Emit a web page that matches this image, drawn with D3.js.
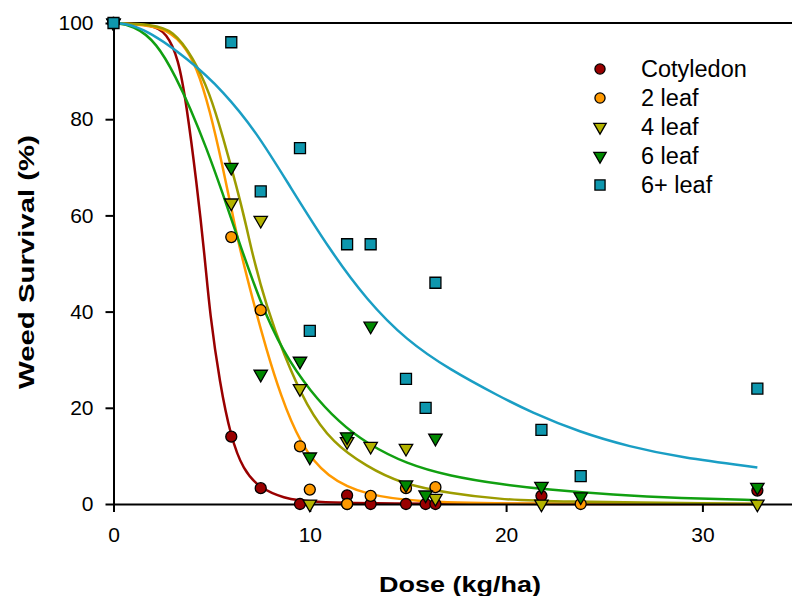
<!DOCTYPE html>
<html>
<head>
<meta charset="utf-8">
<script src="https://cdn.jsdelivr.net/npm/d3@7"></script>
<style>
  body { margin: 0; background: #fff; }
  svg { display: block; font-family: "Liberation Sans", Arial, sans-serif; }
</style>
</head>
<body>
<div id="chart"></div>
<script>
// Data (dose kg/ha, survival %)
const stages = ['Cotyledon', '2 leaf', '4 leaf', '6 leaf', '6+ leaf']

const cotyledonPoints = [[0,100],[6,14],[7.5,3.3],[9.5,0],[11.9,1.8],[11.9,0],[13.1,0],[14.9,0],[15.9,0],[16.4,0],[21.8,1.7],[32.8,2.8]]
const leaf2Points = [[0,100],[6,55.5],[7.5,40.3],[9.5,12],[10,3],[11.9,0],[13.1,1.7],[14.9,3.3],[16.4,3.5],[23.8,0]]
const leaf4Points = [[0,100],[6,62.6],[7.5,59],[9.5,24],[10,0],[11.9,13],[13.1,12],[14.9,11.6],[16.4,1.2],[21.8,0],[32.8,0]]
const leaf6Points = [[0,100],[6,70],[7.5,27],[9.5,29.7],[10,9.8],[11.9,14],[13.1,37],[14.9,4],[15.9,1.9],[16.4,13.7],[21.8,3.7],[23.8,1.5],[32.8,3.5]]
const leaf6plusPoints = [[0,100],[6,96],[7.5,65],[9.5,74],[10,36],[11.9,54],[13.1,54],[14.9,26],[15.9,20],[16.4,46],[21.8,15.4],[23.8,5.8],[32.8,24]]

// fitted curves
const cotyledonCurve = [[0,100],[2,99.7],[2.7,97.9],[3.3,92.8],[3.72,83],[4.23,67],[4.66,51],[4.91,39.5],[5.42,25],[5.97,14],[6.61,7],[7.46,3.3],[8.65,1.2],[10,0.3],[15,0],[32.8,0]]
const leaf2Curve = [[0,100],[2.5,99.5],[3.54,95.8],[4.23,91],[4.91,81.9],[5.57,70],[6.08,60],[6.35,54.5],[7.12,42],[7.8,32],[8.48,23],[9.5,12.5],[10.86,5.5],[12.9,1.8],[15.4,0.5],[19.7,0],[32.8,0]]
const leaf4Curve = [[0,100],[2,99.7],[3.03,98.5],[4.04,93],[4.91,85.4],[5.57,76.4],[6.27,66],[6.78,57.6],[7.1,51.5],[7.8,41],[8.65,31.3],[9.84,20.2],[11.19,12.6],[12.9,7.8],[14.59,4.3],[17.14,2.2],[19.7,1],[22.06,0.5],[32.8,0]]
const leaf6Curve = [[0,100],[1,99.6],[2.2,96],[3.21,88.5],[3.89,82.5],[4.74,74],[5.57,64.5],[6.27,56],[7.46,42],[8.65,31.5],[10,23.5],[11.53,16.8],[12.9,12.6],[14.93,8.3],[17.14,5.8],[19.7,4.1],[22.06,3],[25.45,1.9],[28.85,1.2],[32.8,0.8]]
const leaf6plusCurve = [[0,100],[1.35,99.6],[3.89,92.3],[5.57,85.9],[7.29,77.3],[8.99,66],[11.02,52.8],[12.9,42.4],[14.93,34],[17.14,27.9],[19.7,22.3],[21.21,19.2],[23.76,14.9],[26.3,11.9],[28.85,9.7],[32.8,7.6]]

const xTicks = [0, 10, 20, 30]
const yTicks = [0, 20, 40, 60, 80, 100]

// series table + styles
const series = [
  { name: stages[0], points: cotyledonPoints, curve: cotyledonCurve },
  { name: stages[1], points: leaf2Points, curve: leaf2Curve },
  { name: stages[2], points: leaf4Points, curve: leaf4Curve },
  { name: stages[3], points: leaf6Points, curve: leaf6Curve },
  { name: stages[4], points: leaf6plusPoints, curve: leaf6plusCurve }
]
const styles = [
  { fill: '#990000', line: '#990000', symbol: d3.symbolCircle, size: 95, rot: 0 },
  { fill: '#ff9900', line: '#ff9900', symbol: d3.symbolCircle, size: 95, rot: 0 },
  { fill: '#b3b300', line: '#9c9c00', symbol: d3.symbolTriangle, size: 78, rot: 180 },
  { fill: '#008800', line: '#11a011', symbol: d3.symbolTriangle, size: 78, rot: 180 },
  { fill: '#0e97ae', line: '#1a9ec4', symbol: d3.symbolSquare, size: 121, rot: 0 }
]

// Dimensions
let dimensions = {
  width: 792,
  height: 596,
  margin: { top: 23, left: 113.5 }
}
dimensions.ctrWidth = 35 * 19.63
dimensions.ctrHeight = 504 - dimensions.margin.top

const svg = d3.select('#chart')
  .append('svg')
  .attr('width', dimensions.width)
  .attr('height', dimensions.height)

const ctr = svg.append('g')
  .attr('transform', `translate(${dimensions.margin.left},${dimensions.margin.top})`)

// Scales
const xScale = d3.scaleLinear().domain([0, 35]).range([0, dimensions.ctrWidth])
const yScale = d3.scaleLinear().domain([0, 100]).range([dimensions.ctrHeight, 0])

// top frame line
ctr.append('line')
  .attr('x1', 0).attr('x2', dimensions.ctrWidth)
  .attr('y1', yScale(100)).attr('y2', yScale(100))
  .attr('stroke', 'black').attr('stroke-width', 2)

// Curves (smoothed through the points)
const line = d3.line()
  .x(d => xScale(d[0]))
  .y(d => yScale(d[1]))
  .curve(d3.curveBasis)

ctr.selectAll('path.curve')
  .data(series)
  .join('path')
  .attr('class', 'curve')
  .attr('d', d => line(d.curve))
  .attr('fill', 'none')
  .attr('stroke', (d, i) => styles[i].line)
  .attr('stroke-width', 2.5)

// Axes
const xAxis = d3.axisBottom(xScale)
  .tickValues(xTicks)
  .tickSize(8)
  .tickSizeOuter(0)
  .tickPadding(15)
const xAxisGroup = ctr.append('g')
  .attr('transform', `translate(0,${dimensions.ctrHeight})`)
  .call(xAxis)
xAxisGroup.selectAll('text').style('font-size', '21px').attr('fill', 'black')

const yAxis = d3.axisLeft(yScale)
  .tickValues(yTicks)
  .tickSize(8)
  .tickSizeOuter(0)
  .tickPadding(12)
const yAxisGroup = ctr.append('g').call(yAxis)
yAxisGroup.selectAll('text').style('font-size', '21px').attr('fill', 'black')

svg.selectAll('.domain, .tick line').attr('stroke', 'black').attr('stroke-width', 2)

// Points
const symbol = d3.symbol()
series.forEach((s, i) => {
  const st = styles[i]
  ctr.append('g').selectAll('path')
    .data(s.points)
    .join('path')
    .attr('d', symbol.type(st.symbol).size(st.size)())
    .attr('transform', d => `translate(${xScale(d[0])},${yScale(d[1])}) rotate(${st.rot})`)
    .attr('fill', st.fill)
    .attr('stroke', 'black')
    .attr('stroke-width', 1.3)
})

// Legend
const legend = svg.append('g')
series.forEach((s, i) => {
  const st = styles[i]
  const cy = 69 + i * 29
  legend.append('path')
    .attr('d', symbol.type(st.symbol).size(st.size * 0.85)())
    .attr('transform', `translate(600,${cy}) rotate(${st.rot})`)
    .attr('fill', st.fill)
    .attr('stroke', 'black')
    .attr('stroke-width', 1.3)
  legend.append('text')
    .attr('x', 641)
    .attr('y', cy + 8)
    .style('font-size', '23.5px')
    .text(s.name)
})

// Axis titles
svg.append('text')
  .attr('x', 460)
  .attr('y', 591.5)
  .attr('text-anchor', 'middle')
  .attr('textLength', 162)
  .attr('lengthAdjust', 'spacingAndGlyphs')
  .style('font-size', '22px')
  .style('font-weight', 'bold')
  .text('Dose (kg/ha)')

svg.append('text')
  .attr('transform', 'translate(34,262) rotate(-90)')
  .attr('text-anchor', 'middle')
  .attr('textLength', 254)
  .attr('lengthAdjust', 'spacingAndGlyphs')
  .style('font-size', '22px')
  .style('font-weight', 'bold')
  .text('Weed Survival (%)')
</script>
</body>
</html>
